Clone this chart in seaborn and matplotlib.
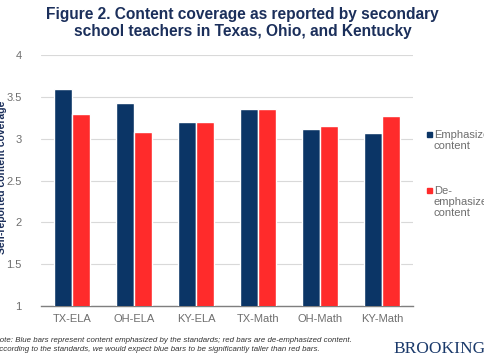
import matplotlib
matplotlib.use("Agg")
import matplotlib.pyplot as plt
import seaborn as sns
import pandas as pd

categories = ["TX-ELA", "OH-ELA", "KY-ELA", "TX-Math", "OH-Math", "KY-Math"]
emphasized = [3.59, 3.43, 3.20, 3.35, 3.12, 3.07]
deemphasized = [3.30, 3.08, 3.20, 3.35, 3.15, 3.27]
series_names = ["Emphasized content", "De-emphasized content"]
yticks = [1, 1.5, 2, 2.5, 3, 3.5, 4]
ytick_labels = ["1", "1.5", "2", "2.5", "3", "3.5", "4"]

df = pd.DataFrame({
    "cat": categories * 2,
    "val": emphasized + deemphasized,
    "series": [series_names[0]] * 6 + [series_names[1]] * 6,
})

sns.set_theme(style="white")
plt.rcParams["font.family"] = ["Liberation Sans", "DejaVu Sans"]

navy = "#0B3566"
red = "#FF2B2B"
grey = "#6E6E6E"

fig = plt.figure(figsize=(4.85, 3.6), dpi=100)
ax = fig.add_axes([41 / 485, 1 - 306 / 360, 372 / 485, 251 / 360])

sns.barplot(data=df, x="cat", y="val", hue="series", palette=[navy, red],
            width=0.58, ax=ax, legend=False, saturation=1, zorder=3)

ax.set_ylim(1, 4)
ax.set_xlim(-0.5, 5.5)
ax.set_yticks(yticks)
ax.set_yticklabels(ytick_labels)
ax.set_xlabel("")
ax.set_ylabel("")
ax.grid(axis="y", color="#D9D9D9", linewidth=0.8, zorder=0)
for s in ["top", "right", "left"]:
    ax.spines[s].set_visible(False)
ax.spines["bottom"].set_color("#7F7F7F")
ax.spines["bottom"].set_linewidth(1.0)
ax.tick_params(axis="both", length=0, labelsize=8, labelcolor=grey, pad=6)
ax.tick_params(axis="y", pad=14)

fig.text(0.5, 1 - 23 / 360, "Figure 2. Content coverage as reported by secondary\nschool teachers in Texas, Ohio, and Kentucky",
         ha="center", va="center", fontsize=11.2, fontweight="bold", color="#1B2F5B", linespacing=1.1)

fig.text(0.004, 1 - 177 / 360, "Self-reported content coverage", rotation=90,
         ha="center", va="center", fontsize=7.5, fontweight="bold", color="#1B2F5B")

# legend
fig.patches.append(plt.Rectangle((427 / 485, 1 - 137 / 360), 5 / 485, 5 / 360,
                                 transform=fig.transFigure, color=navy))
fig.text(434 / 485, 1 - 130 / 360, "Emphasized\ncontent", ha="left", va="top",
         fontsize=8, color=grey, linespacing=1.1)
fig.patches.append(plt.Rectangle((427 / 485, 1 - 193 / 360), 5 / 485, 5 / 360,
                                 transform=fig.transFigure, color=red))
fig.text(434 / 485, 1 - 186 / 360, "De-\nemphasized\ncontent", ha="left", va="top",
         fontsize=8, color=grey, linespacing=1.1)

fig.text(-6 / 485, 1 - 345 / 360,
         "Note: Blue bars represent content emphasized by the standards; red bars are de-emphasized content.\n"
         "According to the standards, we would expect blue bars to be significantly taller than red bars.",
         ha="left", va="center", fontsize=5.7, style="italic", color="#333333", linespacing=1.25)

fig.text(393 / 485, 1 - 349 / 360, "BROOKINGS", ha="left", va="center",
         fontsize=12.5, family=["Liberation Serif", "DejaVu Serif"], color="#1B3A6B")

fig.savefig("out.png", dpi=100)
